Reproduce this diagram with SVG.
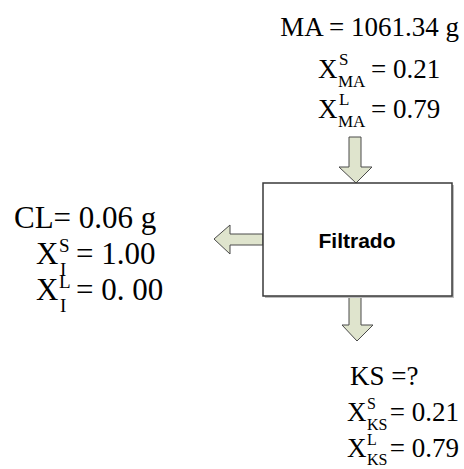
<svg xmlns="http://www.w3.org/2000/svg" width="464" height="469" viewBox="0 0 464 469">
<style>
.t{font-family:"Liberation Serif","Times New Roman",serif;fill:#000}
.m{font-size:27px}
.s{font-size:17px}
.b{font-size:31px}
.bs{font-size:19px}
.k{font-size:27px}
.ks{font-size:16px}
.arrow{fill:#dfe4cd;stroke:#4a4a4a;stroke-width:1}
.box{fill:#fff;stroke:#3a3a3a;stroke-width:1.5}
.lbl{font-family:"Liberation Sans",Arial,sans-serif;font-weight:bold;font-size:21px;fill:#000}
</style>
<rect width="464" height="469" fill="#fff"/>
<g id="connectors">
<polygon class="arrow" points="349,137 361,137 361,167 372,167 356,183 339,167 349,167"/>
<polygon class="arrow" points="263,234 263,245 230,245 230,254 214,239 230,225 230,234"/>
<polygon class="arrow" points="349,296 361,296 361,325 373,325 357,341 342,325 349,325"/>
</g>
<g id="filtrado">
<rect x="265" y="185" width="189" height="113" fill="#bdbdbd"/>
<rect class="box" x="263" y="183" width="189" height="113"/>
<text class="lbl" x="357" y="248" text-anchor="middle">Filtrado</text>
</g>
<g id="entrada-MA">
<text class="t m" x="459" y="36" text-anchor="end">MA = 1061.34 g</text>
<text class="t m" x="318" y="78">X</text>
<text class="t s" x="339" y="65">S</text>
<text class="t s" x="338" y="87">MA</text>
<text class="t m" x="371" y="78">= 0.21</text>
<text class="t m" x="318" y="118">X</text>
<text class="t s" x="339" y="105">L</text>
<text class="t s" x="338" y="127">MA</text>
<text class="t m" x="371" y="118">= 0.79</text>
</g>
<g id="salida-CL">
<text class="t b" x="14" y="228">CL= 0.06 g</text>
<text class="t b" x="36" y="264">X</text>
<text class="t bs" x="59" y="252">S</text>
<text class="t bs" x="60" y="276">I</text>
<text class="t b" x="76" y="264">= 1.00</text>
<text class="t b" x="36" y="300">X</text>
<text class="t bs" x="59" y="288">L</text>
<text class="t bs" x="60" y="312">I</text>
<text class="t b" x="76" y="300">= 0. 00</text>
</g>
<g id="salida-KS">
<text class="t k" x="350" y="385">KS =?</text>
<text class="t k" x="347" y="421">X</text>
<text class="t ks" x="367" y="409">S</text>
<text class="t ks" x="367" y="430">KS</text>
<text class="t k" x="459" y="421" text-anchor="end">= 0.21</text>
<text class="t k" x="347" y="457">X</text>
<text class="t ks" x="367" y="445">L</text>
<text class="t ks" x="367" y="465">KS</text>
<text class="t k" x="459" y="457" text-anchor="end">= 0.79</text>
</g>
</svg>
